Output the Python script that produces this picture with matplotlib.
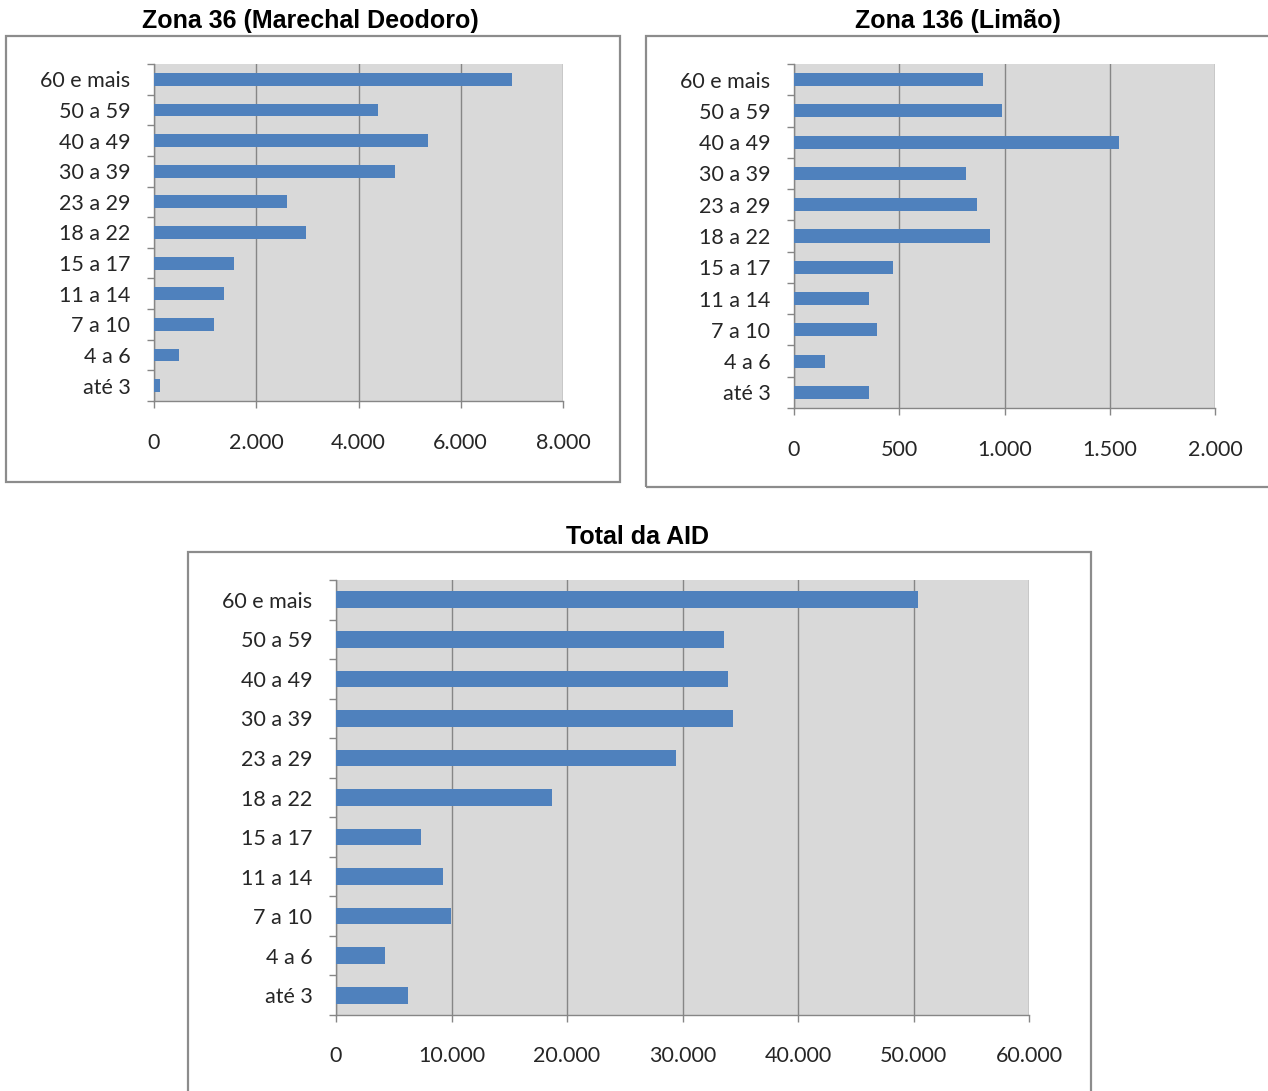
import matplotlib.pyplot as plt
from matplotlib.patches import Rectangle
from matplotlib.ticker import FuncFormatter, FixedLocator
import numpy as np

# faixas etarias, de baixo para cima
faixas = ["até 3", "4 a 6", "7 a 10", "11 a 14", "15 a 17", "18 a 22",
          "23 a 29", "30 a 39", "40 a 49", "50 a 59", "60 e mais"]

zona36 = [125, 485, 1180, 1370, 1560, 2980, 2600, 4720, 5350, 4385, 7000]
zona136 = [355, 148, 395, 355, 470, 933, 871, 817, 1545, 990, 899]
total_aid = [6230, 4210, 9990, 9230, 7350, 18660, 29420, 34390, 33980, 33580, 50370]

W, H = 1268, 1091
BAR = "#4f81bd"
PLOT_BG = "#d9d9d9"
GRID = "#868686"
BOX = "#8c8c8c"
LABEL_FONT = "Lato"
TITLE_FONT = "Liberation Sans"

fig = plt.figure(figsize=(W / 100, H / 100), dpi=100)


def px_axes(x0, y0, x1, y1):
    # pixel box (top-left origin) -> figure fraction
    return fig.add_axes([x0 / W, 1 - y1 / H, (x1 - x0) / W, (y1 - y0) / H])


def thousands(v, pos):
    return f"{int(round(v)):,}".replace(",", ".")


def panel(title, values, xmax, step, box, plot, title_xy, xpad):
    bx0, by0, bx1, by1 = box
    fig.patches.append(Rectangle((bx0 / W, 1 - by1 / H), (bx1 - bx0) / W, (by1 - by0) / H,
                                 transform=fig.transFigure, fill=False,
                                 edgecolor=BOX, linewidth=1.6))
    fig.text(title_xy[0] / W, 1 - title_xy[1] / H, title, ha="center", va="center",
             fontsize=18, fontweight="bold", family=TITLE_FONT)

    ax = px_axes(*plot)
    ax.set_facecolor(PLOT_BG)
    y = np.arange(len(faixas))
    ax.barh(y, values, height=0.42, color=BAR, zorder=3)
    ax.set_xlim(0, xmax)
    ax.set_ylim(-0.5, len(faixas) - 0.5)
    ax.set_xticks(np.arange(0, xmax + step, step))
    ax.xaxis.set_major_formatter(FuncFormatter(thousands))
    ax.grid(axis="x", color=GRID, linewidth=1, zorder=1)
    ax.set_axisbelow(True)

    ax.set_yticks(y)
    ax.set_yticklabels(faixas)
    ax.yaxis.set_minor_locator(FixedLocator(np.arange(-0.5, len(faixas), 1.0)))
    ax.tick_params(axis="y", which="major", length=0, pad=17)
    ax.tick_params(axis="y", which="minor", length=5, color=GRID, width=1)
    ax.tick_params(axis="x", length=5, color=GRID, width=1, pad=xpad, direction="out")
    for lab in ax.get_xticklabels() + ax.get_yticklabels():
        lab.set_family(LABEL_FONT)
        lab.set_fontsize(15.5)
        lab.set_color("#262626")

    for side in ("top", "right"):
        ax.spines[side].set_visible(False)
    for side in ("left", "bottom"):
        ax.spines[side].set_color(GRID)
        ax.spines[side].set_linewidth(1)
    return ax


panel("Zona 36 (Marechal Deodoro)", zona36, 8000, 2000,
      box=(6, 36, 620, 482), plot=(154, 64, 563, 401), title_xy=(310, 21), xpad=18)
panel("Zona 136 (Limão)", zona136, 2000, 500,
      box=(646, 36, 1275, 487), plot=(794, 64, 1215, 408), title_xy=(958, 21), xpad=18)
panel("Total da AID", total_aid, 60000, 10000,
      box=(188, 552, 1091, 1100), plot=(336, 580, 1029, 1015), title_xy=(638, 537), xpad=17)

fig.savefig("out.png", dpi=100)
